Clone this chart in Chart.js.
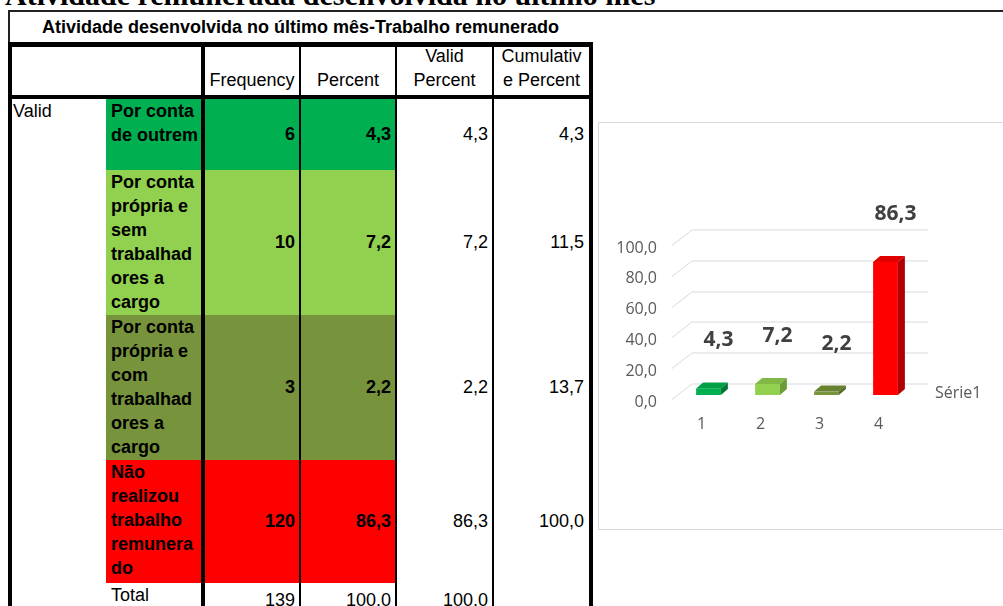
<!DOCTYPE html>
<html>
<head>
<meta charset="utf-8">
<script src="https://cdn.jsdelivr.net/npm/chart.js@4.4.0/dist/chart.umd.min.js"></script>
<style>
    body {
        margin: 0;
        width: 1003px;
        height: 606px;
        overflow: hidden;
        background: #fff;
        position: relative;
        font-family: 'Liberation Sans', Arial, sans-serif;
        font-size: 18px;
        color: #000;
    }
    .abs { position: absolute; white-space: nowrap; }
    #topTitle {
        left: 5px;
        top: -20px;
        font-family: 'Liberation Serif', 'Times New Roman', serif;
        font-weight: bold;
        font-size: 30px;
        line-height: 30px;
    }
    #chartBox {
        position: absolute;
        left: 598px;
        top: 122px;
        width: 420px;
        height: 406px;
        border: 1px solid #d9d9d9;
    }
    #chartWrap {
        position: absolute;
        left: 598px;
        top: 122px;
        width: 405px;
        height: 407px;
    }
</style>
</head>
<body>
<div id="topTitle" class="abs">Atividade remunerada desenvolvida no último mês</div>
<div id="table"></div>
<div id="chartBox"></div>
<div id="chartWrap"><canvas id="barChart" width="405" height="407"></canvas></div>
<script>
// data
const tableTitle = 'Atividade desenvolvida no último mês-Trabalho remunerado';
const categoryLines = [
    ['Por conta', 'de outrem'],
    ['Por conta', 'própria e', 'sem', 'trabalhad', 'ores a', 'cargo'],
    ['Por conta', 'própria e', 'com', 'trabalhad', 'ores a', 'cargo'],
    ['Não', 'realizou', 'trabalho', 'remunera', 'do']
];
const frequency = [6, 10, 3, 120];
const percent = [4.3, 7.2, 2.2, 86.3];
const validPercent = [4.3, 7.2, 2.2, 86.3];
const cumulativePercent = [4.3, 11.5, 13.7, 100.0];
const totalFrequency = 139;
const totalPercent = 100.0;
const totalValidPercent = 100.0;
const tickLabels = ['1', '2', '3', '4'];
const seriesName = 'Série1';

// styles
const rowColors = ['#00B050', '#92D050', '#77933C', '#FF0000'];
const topColors = ['#00a047', '#82b846', '#68822f', '#e00000'];
const sideColors = ['#007a36', '#6c9c38', '#536a27', '#b00000'];

const fmt = v => v.toFixed(1).replace('.', ',');

// ---- table ----
const table = document.getElementById('table');

function box(x, y, w, h, bg) {
    const d = document.createElement('div');
    d.className = 'abs';
    d.style.left = x + 'px';
    d.style.top = y + 'px';
    d.style.width = w + 'px';
    d.style.height = h + 'px';
    d.style.background = bg;
    table.appendChild(d);
    return d;
}

function label(str, x, y, w, h, align, bold) {
    const d = box(x, y, w, h, 'transparent');
    d.textContent = str;
    d.style.lineHeight = h + 'px';
    d.style.textAlign = align;
    if (bold) d.style.fontWeight = 'bold';
    return d;
}

// columns: [left, right]
const cols = [[106, 201], [205, 299], [301, 395], [397, 492], [494, 589]];
const rowTops = [99, 170, 315, 460, 583];

// coloured cells
rowColors.forEach((c, i) => {
    const h = rowTops[i + 1] - rowTops[i];
    for (let k = 0; k < 3; k++) {
        box(cols[k][0], rowTops[i], cols[k][1] - cols[k][0], h, c);
    }
});

// lines
const ink = '#000';
box(8, 10, 995, 2, '#222');
box(8, 10, 2, 33, '#222');
box(8, 42, 585, 5, ink);
box(8, 95, 585, 4, ink);
box(8, 42, 4, 564, ink);
box(589, 42, 4, 564, ink);
box(201, 42, 4, 564, ink);
box(299, 42, 2, 564, ink);
box(395, 42, 2, 564, ink);
box(492, 42, 2, 564, ink);

// title and header
label(tableTitle, 8, 12, 585, 30, 'center', true);
const headers = [['Frequency'], ['Percent'], ['Valid', 'Percent'], ['Cumulativ', 'e Percent']];
headers.forEach((lines, k) => {
    const c = cols[k + 1];
    lines.forEach((s, j) => {
        const y = 92 - (lines.length - j) * 24;
        label(s, c[0], y, c[1] - c[0], 24, 'center', false);
    });
});

// rows
label('Valid', 13, 99, 90, 24, 'left', false);
categoryLines.forEach((lines, i) => {
    lines.forEach((s, j) => {
        label(s, 111, rowTops[i] + j * 24, 90, 24, 'left', true);
    });
    const top = rowTops[i];
    const h = rowTops[i + 1] - top;
    label(String(frequency[i]), cols[1][0], top, cols[1][1] - cols[1][0] - 4, h, 'right', true);
    label(fmt(percent[i]), cols[2][0], top, cols[2][1] - cols[2][0] - 4, h, 'right', true);
    label(fmt(validPercent[i]), cols[3][0], top, cols[3][1] - cols[3][0] - 4, h, 'right', false);
    label(fmt(cumulativePercent[i]), cols[4][0], top, cols[4][1] - cols[4][0] - 5, h, 'right', false);
});

// total row
label('Total', 111, 583, 90, 24, 'left', false);
label(String(totalFrequency), cols[1][0], 588, cols[1][1] - cols[1][0] - 4, 24, 'right', false);
label(fmt(totalPercent), cols[2][0], 588, cols[2][1] - cols[2][0] - 4, 24, 'right', false);
label(fmt(totalValidPercent), cols[3][0], 588, cols[3][1] - cols[3][0] - 4, 24, 'right', false);

// ---- chart ----
const depthX = 7, depthY = 6;
const barShiftX = 7, barShiftY = -4;
const axisFont = { family: 'Open Sans', size: 16 };

const wallPlugin = {
    id: 'wall3d',
    beforeDatasetsDraw(chart) {
        const { ctx, chartArea: a, scales: { y } } = chart;
        ctx.save();
        ctx.strokeStyle = '#d9d9d9';
        ctx.lineWidth = 1;
        y.ticks.forEach(tk => {
            const py = Math.round(y.getPixelForValue(tk.value)) + 0.5;
            ctx.beginPath();
            ctx.moveTo(a.left, py);
            ctx.lineTo(a.left + 20, py - 15.5);
            ctx.lineTo(a.right + 20, py - 15.5);
            ctx.stroke();
        });
        ctx.fillStyle = '#595959';
        ctx.font = '16px "Open Sans"';
        ctx.textAlign = 'left';
        ctx.textBaseline = 'middle';
        ctx.fillText(seriesName, a.right + 27, y.getPixelForValue(0) - 6);
        ctx.restore();
        // push the bars a bit into the depth
        ctx.save();
        ctx.translate(barShiftX, barShiftY);
    },
    afterDatasetsDraw(chart) {
        const ctx = chart.ctx;
        chart.getDatasetMeta(0).data.forEach((bar, i) => {
            const p = bar.getProps(['x', 'y', 'base', 'width'], true);
            const l = p.x - p.width / 2;
            const r = p.x + p.width / 2;
            ctx.fillStyle = topColors[i];
            ctx.beginPath();
            ctx.moveTo(l, p.y);
            ctx.lineTo(l + depthX, p.y - depthY);
            ctx.lineTo(r + depthX, p.y - depthY);
            ctx.lineTo(r, p.y);
            ctx.closePath();
            ctx.fill();
            ctx.fillStyle = sideColors[i];
            ctx.beginPath();
            ctx.moveTo(r, p.y);
            ctx.lineTo(r + depthX, p.y - depthY);
            ctx.lineTo(r + depthX, p.base - depthY);
            ctx.lineTo(r, p.base);
            ctx.closePath();
            ctx.fill();
            ctx.fillStyle = '#404040';
            ctx.font = 'bold 21px "Open Sans"';
            ctx.textAlign = 'center';
            ctx.textBaseline = 'middle';
            ctx.fillText(fmt(percent[i]), p.x + 10, p.y - 48);
        });
        ctx.restore();
    }
};

new Chart(document.getElementById('barChart'), {
    type: 'bar',
    data: {
        labels: tickLabels,
        datasets: [{
            label: seriesName,
            data: percent,
            backgroundColor: rowColors,
            borderWidth: 0,
            barPercentage: 0.42,
            categoryPercentage: 1,
            clip: false
        }]
    },
    options: {
        responsive: false,
        animation: false,
        layout: { padding: { left: 0, top: 123, right: 95, bottom: 90 } },
        plugins: {
            legend: { display: false },
            tooltip: { enabled: false }
        },
        scales: {
            x: {
                grid: { display: false },
                border: { display: false },
                ticks: { font: axisFont, color: '#595959', padding: 8 },
                afterFit: s => { s.height = 40; }
            },
            y: {
                min: 0,
                max: 100,
                grid: { display: false },
                border: { display: false },
                ticks: {
                    stepSize: 20,
                    font: axisFont,
                    color: '#595959',
                    padding: 7,
                    labelOffset: 3,
                    callback: v => fmt(v)
                },
                afterFit: s => { s.width = 74; }
            }
        }
    },
    plugins: [wallPlugin]
});
</script>
</body>
</html>
